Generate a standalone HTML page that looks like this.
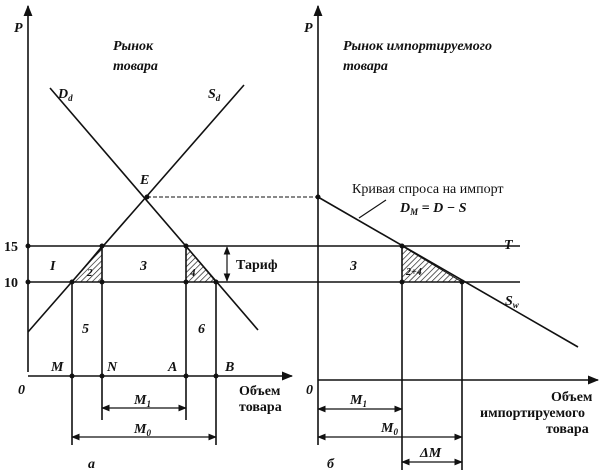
<!DOCTYPE html>
<html><head><meta charset="utf-8"><style>
html,body{margin:0;padding:0;background:#fff}
svg{display:block}
text{font-family:"Liberation Serif",serif;fill:#111}
.i{font-style:italic;font-weight:bold}
.b{font-weight:bold}
</style></head><body>
<svg width="602" height="475" viewBox="0 0 602 475" xmlns="http://www.w3.org/2000/svg">
<defs>
<pattern id="h" width="4" height="4" patternUnits="userSpaceOnUse" patternTransform="rotate(45)">
<line x1="0" y1="0" x2="0" y2="4" stroke="#111" stroke-width="1.3"/></pattern>
<marker id="a" viewBox="0 0 10 10" refX="9" refY="5" markerWidth="7" markerHeight="7" orient="auto-start-reverse"><path d="M0,1 L10,5 L0,9z" fill="#111"/></marker>
</defs>
<g stroke="#111" stroke-width="1.6" fill="none">
<line x1="28" y1="372" x2="28" y2="6" marker-end="url(#a)"/>
<line x1="28" y1="376" x2="292" y2="376" marker-end="url(#a)"/>
<line x1="318" y1="380" x2="318" y2="6" marker-end="url(#a)"/>
<line x1="318" y1="380" x2="598" y2="380" marker-end="url(#a)"/>
<line x1="28" y1="246" x2="520" y2="246"/>
<line x1="28" y1="282" x2="520" y2="282"/>
<line x1="50" y1="88" x2="258" y2="330"/>
<line x1="28" y1="332" x2="244" y2="85"/>
<line x1="147" y1="197" x2="318" y2="197" stroke-dasharray="4,2" stroke-width="1"/>
<line x1="318" y1="197" x2="578" y2="347"/>
<line x1="386" y1="200" x2="359" y2="218" stroke-width="1.2"/>
<line x1="72" y1="282" x2="72" y2="445"/>
<line x1="102" y1="246" x2="102" y2="420"/>
<line x1="186" y1="246" x2="186" y2="420"/>
<line x1="216" y1="282" x2="216" y2="445"/>
<line x1="402" y1="246" x2="402" y2="470"/>
<line x1="462" y1="282" x2="462" y2="470"/>
<line x1="318" y1="380" x2="318" y2="445"/>
<line x1="102" y1="408" x2="186" y2="408" marker-start="url(#a)" marker-end="url(#a)" stroke-width="1.2"/>
<line x1="72" y1="437" x2="216" y2="437" marker-start="url(#a)" marker-end="url(#a)" stroke-width="1.2"/>
<line x1="318" y1="409" x2="402" y2="409" marker-start="url(#a)" marker-end="url(#a)" stroke-width="1.2"/>
<line x1="318" y1="437" x2="462" y2="437" marker-start="url(#a)" marker-end="url(#a)" stroke-width="1.2"/>
<line x1="402" y1="462" x2="462" y2="462" marker-start="url(#a)" marker-end="url(#a)" stroke-width="1.2"/>
<line x1="227" y1="247" x2="227" y2="281" marker-start="url(#a)" marker-end="url(#a)" stroke-width="1.2"/>
</g>
<polygon points="72,282 102,246 102,282" fill="url(#h)" stroke="#111" stroke-width="1"/>
<polygon points="186,246 216,282 186,282" fill="url(#h)" stroke="#111" stroke-width="1"/>
<polygon points="402,246 462,282 402,282" fill="url(#h)" stroke="#111" stroke-width="1"/>
<g fill="#111">
<circle cx="147" cy="197" r="2.5"/><circle cx="318" cy="197" r="2.5"/>
<circle cx="28" cy="246" r="2.5"/><circle cx="28" cy="282" r="2.5"/>
<circle cx="72" cy="282" r="2.5"/><circle cx="102" cy="246" r="2.5"/><circle cx="102" cy="282" r="2.5"/>
<circle cx="186" cy="246" r="2.5"/><circle cx="186" cy="282" r="2.5"/><circle cx="216" cy="282" r="2.5"/>
<circle cx="72" cy="376" r="2.5"/><circle cx="102" cy="376" r="2.5"/><circle cx="186" cy="376" r="2.5"/><circle cx="216" cy="376" r="2.5"/>
<circle cx="402" cy="246" r="2.5"/><circle cx="402" cy="282" r="2.5"/><circle cx="462" cy="282" r="2.5"/>
</g>
<g font-size="14">
<text x="14" y="32" class="i">P</text>
<text x="304" y="32" class="i">P</text>
<text x="113" y="50" class="i">Рынок</text>
<text x="113" y="70" class="i">товара</text>
<text x="343" y="50" class="i">Рынок импортируемого</text>
<text x="343" y="70" class="i">товара</text>
<text x="58" y="98" class="i">D<tspan font-size="9" dy="3">d</tspan></text>
<text x="208" y="98" class="i">S<tspan font-size="9" dy="3">d</tspan></text>
<text x="140" y="184" class="i">E</text>
<text x="352" y="193" font-size="14">Кривая спроса на импорт</text>
<text x="400" y="212" class="i">D<tspan font-size="9" dy="3">M</tspan><tspan dy="-3"> = D − S</tspan></text>
<text x="4" y="251" class="b">15</text>
<text x="4" y="287" class="b">10</text>
<text x="50" y="270" class="i">I</text>
<text x="87" y="276" class="i" font-size="11">2</text>
<text x="140" y="270" class="i">3</text>
<text x="190" y="276" class="i" font-size="11">4</text>
<text x="236" y="269" class="b">Тариф</text>
<text x="82" y="333" class="i">5</text>
<text x="198" y="333" class="i">6</text>
<text x="51" y="371" class="i">M</text>
<text x="107" y="371" class="i">N</text>
<text x="168" y="371" class="i">A</text>
<text x="225" y="371" class="i">B</text>
<text x="18" y="394" class="i">0</text>
<text x="239" y="395" class="b">Объем</text>
<text x="239" y="411" class="b">товара</text>
<text x="134" y="404" class="i">M<tspan font-size="9" dy="3">1</tspan></text>
<text x="134" y="433" class="i">M<tspan font-size="9" dy="3">0</tspan></text>
<text x="88" y="468" class="i">а</text>
<text x="504" y="249" class="i">T</text>
<text x="350" y="270" class="i">3</text>
<text x="406" y="275" class="i" font-size="10">2+4</text>
<text x="505" y="305" class="i">S<tspan font-size="9" dy="3">w</tspan></text>
<text x="306" y="394" class="i">0</text>
<text x="551" y="401" class="b">Объем</text>
<text x="480" y="417" class="b">импортируемого</text>
<text x="546" y="433" class="b">товара</text>
<text x="350" y="404" class="i">M<tspan font-size="9" dy="3">1</tspan></text>
<text x="381" y="432" class="i">M<tspan font-size="9" dy="3">0</tspan></text>
<text x="420" y="457" class="i">ΔM</text>
<text x="327" y="468" class="i">б</text>
</g>
</svg>
</body></html>
